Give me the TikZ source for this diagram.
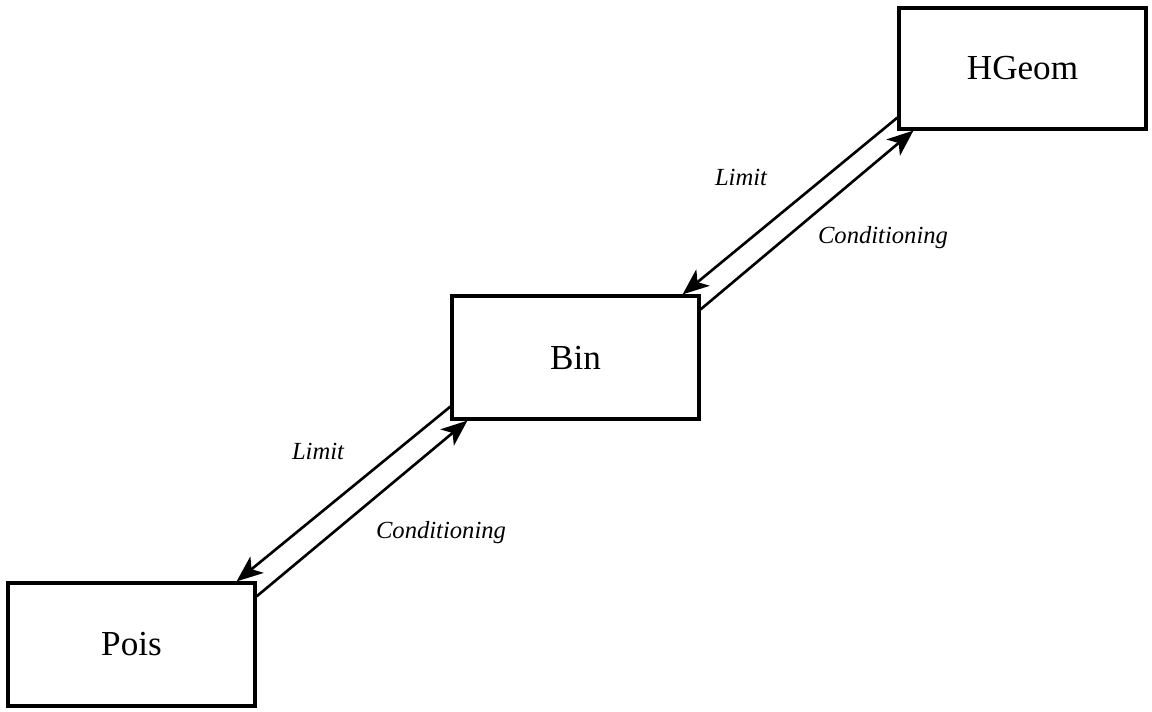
\documentclass[tikz,border=0pt]{standalone}
\usepackage{fontspec}
\setmainfont{Liberation Serif}
\usetikzlibrary{positioning,calc,arrows.meta}

\begin{document}
\begin{tikzpicture}
    \useasboundingbox (0,0) rectangle (23.04,14.24);
    \tikzset{
        distbox/.style={draw, line width=1.8pt, minimum width=4.94cm, minimum height=2.46cm, font=\fontsize{20}{24}\selectfont},
        relarrow/.style={line width=1.5pt, -{Stealth[length=15pt, width=12pt, inset=4pt]}},
        rellabel/.style={font=\fontsize{14}{17}\selectfont\itshape}
    }

    % Distributions
    \node[distbox] (pois) at (2.63,1.35) {Pois};
    \node[distbox] (bin) at (11.51,7.09) {Bin};
    \node[distbox, minimum height=2.42cm] (hgeom) at (20.45,12.87) {HGeom};

    % Bin <-> Pois
    \draw[relarrow] ($(bin.south west)+(0,0.28)$) -- ($(pois.north east)+(-0.4,0)$);
    \draw[relarrow] ($(pois.north east)+(0,-0.3)$) -- ($(bin.south west)+(0.34,0)$);
    \node[rellabel] (limA) at (6.36,5.22) {Limit};
    \node[rellabel] (condA) at (8.82,3.58) {Conditioning};

    % HGeom <-> Bin
    \draw[relarrow] ($(hgeom.south west)+(0,0.26)$) -- ($(bin.north east)+(-0.36,0)$);
    \draw[relarrow] ($(bin.north east)+(0,-0.3)$) -- ($(hgeom.south west)+(0.32,0)$);
    \node[rellabel] (limB) at (14.82,10.70) {Limit};
    \node[rellabel] (condB) at (17.66,9.48) {Conditioning};
\end{tikzpicture}
\end{document}
